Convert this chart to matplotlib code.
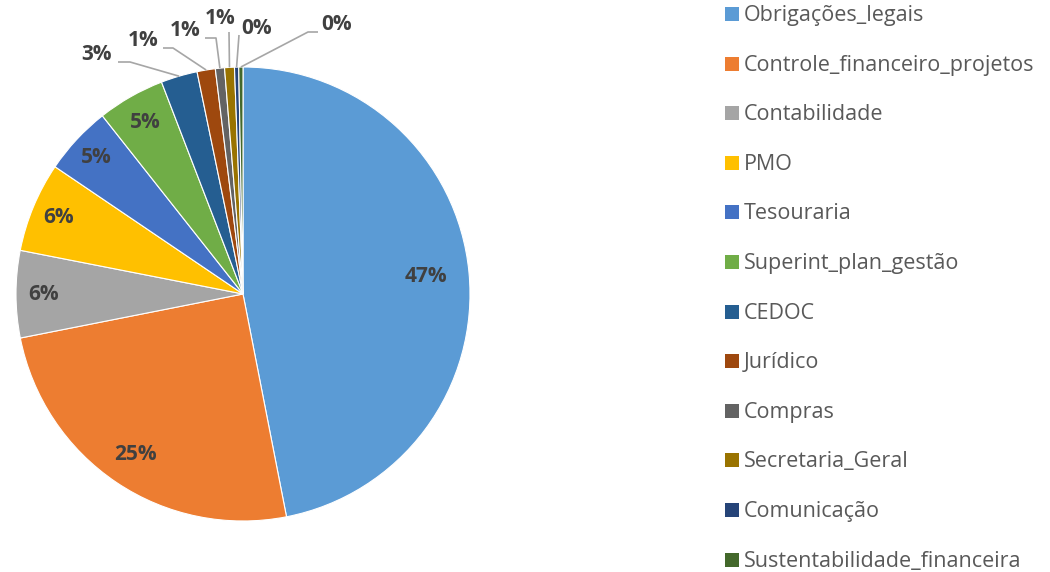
import numpy as np
import matplotlib
matplotlib.use("Agg")
import matplotlib.pyplot as plt
from matplotlib.patches import Rectangle

categories = ["Obrigações_legais", "Controle_financeiro_projetos", "Contabilidade", "PMO",
              "Tesouraria", "Superint_plan_gestão", "CEDOC", "Jurídico", "Compras",
              "Secretaria_Geral", "Comunicação", "Sustentabilidade_financeira"]
values = [47.0, 25.0, 6.2, 6.4, 4.9, 4.8, 2.6, 1.3, 0.65, 0.7, 0.3, 0.3]
colors = ["#5B9BD5", "#ED7D31", "#A5A5A5", "#FFC000", "#4472C4", "#70AD47",
          "#255E91", "#9E480E", "#636363", "#997300", "#264478", "#43682B"]

W, H = 1050, 572
CX, CY, R = 243, 294, 227

plt.rcParams['font.family'] = ['Open Sans', 'DejaVu Sans']
fig = plt.figure(figsize=(W / 100, H / 100), dpi=100)
ax = fig.add_axes([(CX - R) / W, (H - CY - R) / H, 2 * R / W, 2 * R / H])
wedges, _ = ax.pie(values, colors=colors, startangle=90, counterclock=False,
                   radius=1.0, wedgeprops=dict(edgecolor="white", linewidth=0.8))
ax.set_xlim(-1, 1)
ax.set_ylim(-1, 1)
ax.set_aspect("equal")
ax.axis("off")

total = sum(values)
pcts = [f"{round(v / total * 100):.0f}%" for v in values]

def px2d(px, py):
    return (px - CX) / R, (CY - py) / R

label_color = "#404040"
LFS = 15
inner_dist = [0.81, 0.85, 0.88, 0.88, 0.88, 0.87]
for i in range(6):
    w = wedges[i]
    ang = np.deg2rad((w.theta1 + w.theta2) / 2)
    d = inner_dist[i]
    ax.text(d * np.cos(ang), d * np.sin(ang), pcts[i], ha="center", va="center",
            fontsize=LFS, fontweight="bold", color=label_color)

# outside labels: (text px position, elbow px position, start px position)
outside = {
    6: ((97, 55), (130, 62), (118, 62)),
    7: ((143, 41), (173, 48), (163, 48)),
    8: ((185, 31), (216, 38), (205, 38)),
    9: ((220, 18), (229, 32), (229, 32)),
    10: ((257, 29), (239, 35), (239, 35)),
    11: ((337, 24), (308, 32), (318, 32)),
}
for i, (tp, elbow, start) in outside.items():
    w = wedges[i]
    ang = np.deg2rad((w.theta1 + w.theta2) / 2)
    ex, ey = 1.0 * np.cos(ang), 1.0 * np.sin(ang)
    sx, sy = px2d(*start)
    bx, by = px2d(*elbow)
    ax.plot([sx, bx, ex], [sy, by, ey], color="#A6A6A6", lw=1.2, clip_on=False,
            solid_capstyle="butt")
    tx, ty = px2d(*tp)
    ax.text(tx, ty, pcts[i], ha="center", va="center", fontsize=LFS,
            fontweight="bold", color=label_color)

# legend
for i in range(len(categories)):
    y = 14 + i * 49.6
    fig.patches.append(Rectangle((725 / W, (H - y - 7) / H), 14 / W, 14 / H,
                                 transform=fig.transFigure, facecolor=colors[i],
                                 edgecolor="none"))
    fig.text(744 / W, (H - y - 1.5) / H, categories[i], ha="left", va="center",
             fontsize=15.5, color="#595959")

fig.savefig("out.png", dpi=100)
